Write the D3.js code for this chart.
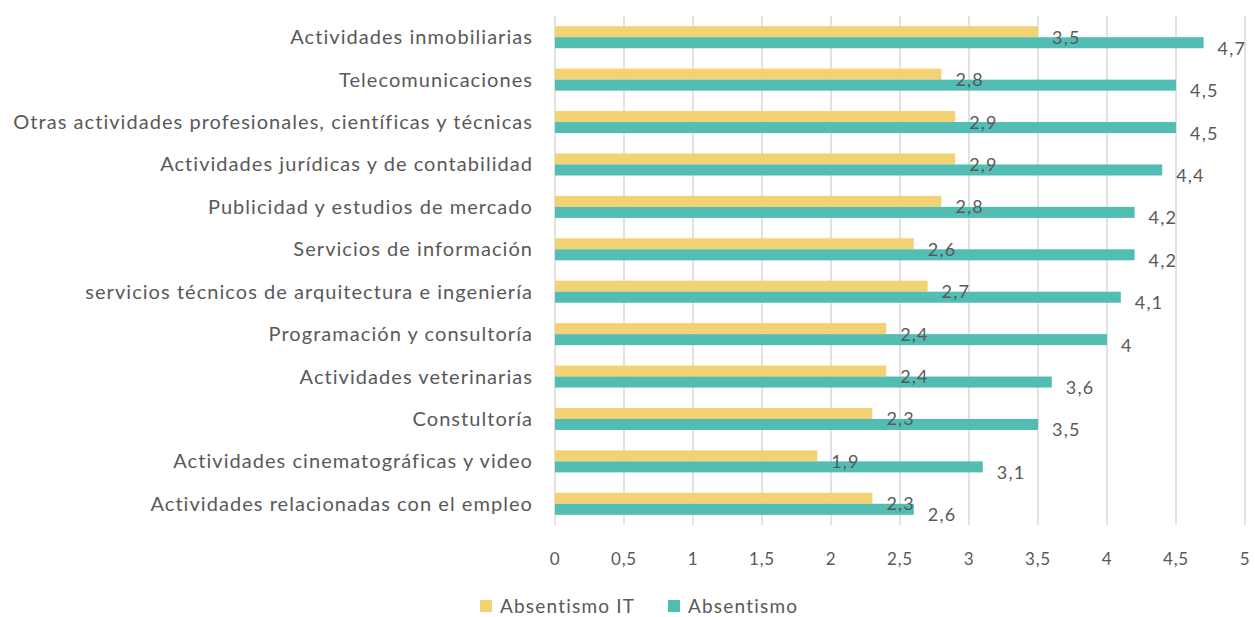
<!DOCTYPE html>
<html><head><meta charset="utf-8">
<script src="https://cdn.jsdelivr.net/npm/d3@7"></script>
<style>body{margin:0;background:#fff;} text{font-family:Lato,"Open Sans",sans-serif;fill:#595959;}</style>
</head><body>
<svg id="c" width="1255" height="617"></svg>
<script>
const categories = ["Actividades inmobiliarias","Telecomunicaciones","Otras actividades profesionales, científicas y técnicas","Actividades jurídicas y de contabilidad","Publicidad y estudios de mercado","Servicios de información","servicios técnicos de arquitectura e ingeniería","Programación y consultoría","Actividades veterinarias","Constultoría","Actividades cinematográficas y video","Actividades relacionadas con el empleo"];
const absentismoIT = [3.5,2.8,2.9,2.9,2.8,2.6,2.7,2.4,2.4,2.3,1.9,2.3];
const absentismo = [4.7,4.5,4.5,4.4,4.2,4.2,4.1,4,3.6,3.5,3.1,2.6];
const ticks = [0,0.5,1,1.5,2,2.5,3,3.5,4,4.5,5];
const seriesNames = ["Absentismo IT","Absentismo"];
const colors = ["#F2D272","#52BDB3"];

const svg = d3.select("#c");
const x = d3.scaleLinear().domain([0,5]).range([555,1245]);
const y = d3.scaleBand().domain(categories).range([16,525]).paddingInner(0.48).paddingOuter(0.24);
const sub = d3.scaleBand().domain([0,1]).range([0,y.bandwidth()]);
const fmt = v => String(v).replace(".", ",");

svg.append("g").selectAll("line").data(ticks).join("line")
  .attr("x1", d=>x(d)).attr("x2", d=>x(d)).attr("y1",16).attr("y2",525)
  .attr("stroke","#D9D9D9").attr("stroke-width",1.5);

const data = [absentismoIT, absentismo];
data.forEach((vals, s) => {
  svg.append("g").selectAll("rect").data(vals).join("rect")
    .attr("x", x(0)).attr("y", (d,i)=>y(categories[i])+sub(s))
    .attr("width", d=>x(d)-x(0)).attr("height", sub.bandwidth())
    .attr("fill", colors[s]);
});
data.forEach((vals, s) => {
  svg.append("g").selectAll("text").data(vals).join("text")
    .attr("x", d=>x(d)+14).attr("y", (d,i)=>y(categories[i])+sub(s)+sub.bandwidth()/2+5)
    .attr("dominant-baseline","central").attr("font-size",18).attr("letter-spacing",1.2).text(d=>fmt(d));
});

svg.append("g").selectAll("text").data(categories).join("text")
  .attr("x",533).attr("y", d=>y(d)+y.bandwidth()/2 - 1)
  .attr("text-anchor","end").attr("dominant-baseline","central")
  .attr("font-size",20).attr("letter-spacing",1.05).text(d=>d);

svg.append("g").selectAll("text").data(ticks).join("text")
  .attr("x", d=>x(d)).attr("y",558).attr("text-anchor","middle")
  .attr("dominant-baseline","central").attr("font-size",17).attr("letter-spacing",0.8).text(d=>fmt(d));

const leg = [{n:seriesNames[0],c:colors[0],x:480},{n:seriesNames[1],c:colors[1],x:668}];
leg.forEach(l=>{
  svg.append("rect").attr("x",l.x).attr("y",600).attr("width",12).attr("height",12).attr("fill",l.c);
  svg.append("text").attr("x",l.x+20).attr("y",605).attr("dominant-baseline","central").attr("font-size",19).attr("letter-spacing",1.2).text(l.n);
});
</script>
</body></html>
